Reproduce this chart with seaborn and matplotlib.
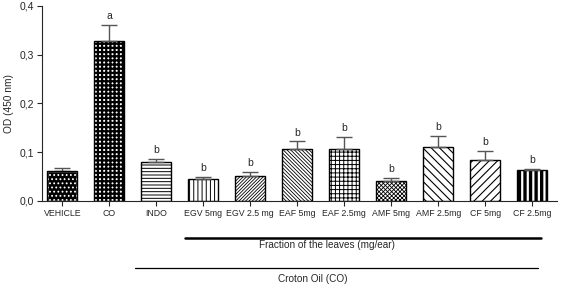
import matplotlib
matplotlib.use("Agg")
import matplotlib.pyplot as plt
import seaborn as sns
import numpy as np
import pandas as pd
from matplotlib.patches import Rectangle

categories = ["VEHICLE", "CO", "INDO", "EGV 5mg", "EGV 2.5 mg", "EAF 5mg",
              "EAF 2.5mg", "AMF 5mg", "AMF 2.5mg", "CF 5mg", "CF 2.5mg"]
means = [0.062, 0.327, 0.079, 0.045, 0.051, 0.106, 0.106, 0.041, 0.110, 0.085, 0.063]
err_top = [0.067, 0.360, 0.087, 0.049, 0.059, 0.122, 0.132, 0.047, 0.133, 0.103, 0.065]
letters = ["", "a", "b", "b", "b", "b", "b", "b", "b", "b", "b"]
hatches = ["....", "++++", "-----", "||||", "/" * 10, "\\" * 9,
           "++++", "x" * 8, "\\" * 4, "/" * 4, "|||"]
yticks = [0.0, 0.1, 0.2, 0.3, 0.4]
ytick_labels = ["0,0", "0,1", "0,2", "0,3", "0,4"]

sns.set_style("ticks")
plt.rcParams['font.family'] = ['Liberation Sans', 'DejaVu Sans']

fig = plt.figure(figsize=(5.61, 2.87), dpi=100)
ax = fig.add_axes([0.075, 0.2997, 0.918, 0.68])

df = pd.DataFrame({"cat": categories, "val": means})
sns.barplot(data=df, x="cat", y="val", color="white", edgecolor="black",
            linewidth=1.0, width=0.64, ax=ax, errorbar=None, saturation=1)

hatch_lw = [0.8, 1.6, 0.7, 0.7, 0.6, 0.6, 0.7, 0.6, 0.8, 0.8, 2.4]
for i, p in enumerate(ax.patches):
    p.set_hatch(hatches[i])
    if hasattr(p, "set_hatch_linewidth"):
        p.set_hatch_linewidth(hatch_lw[i])
    if i == 0:
        p.set_facecolor("black")
        p.set_edgecolor("white")
        ax.add_patch(Rectangle(p.get_xy(), p.get_width(), p.get_height(),
                               fill=False, ec="black", lw=1.0, zorder=p.get_zorder() + 0.1))

x = np.arange(len(categories))
m = np.array(means)
e = np.array(err_top)
ax.errorbar(x, m, yerr=[np.zeros_like(m), e - m], fmt="none", ecolor="#555555",
            elinewidth=1.0, capsize=6, capthick=1.0, zorder=1)

for i, t in enumerate(letters):
    if t:
        ax.text(x[i], e[i] + 0.008, t, ha="center", va="bottom", fontsize=7.5)

ax.set_ylim(0, 0.4)
ax.set_xlim(-0.43, 10.53)
ax.set_yticks(yticks)
ax.set_yticklabels(ytick_labels, fontsize=7.5)
ax.set_xticks(x)
ax.set_xticklabels(categories, fontsize=6.3)
ax.tick_params(axis="both", direction="out", length=3.5, width=0.8, pad=2)
ax.set_xlabel("")
ax.set_ylabel("OD (450 nm)", fontsize=7.3, labelpad=4)
for s in ["top", "right"]:
    ax.spines[s].set_visible(False)
ax.spines["left"].set_linewidth(0.8)
ax.spines["bottom"].set_linewidth(0.8)

# group brackets
fig.add_artist(plt.Line2D([185/561, 541/561], [1-237.5/287, 1-237.5/287], color="black", lw=1.8))
fig.text(327/561, 1-245/287, "Fraction of the leaves (mg/ear)", ha="center", va="center", fontsize=7.2)
fig.add_artist(plt.Line2D([135/561, 538/561], [1-267.5/287, 1-267.5/287], color="black", lw=0.9))
fig.text(313/561, 1-279/287, "Croton Oil (CO)", ha="center", va="center", fontsize=7.2)

fig.savefig("out.png", dpi=100)
